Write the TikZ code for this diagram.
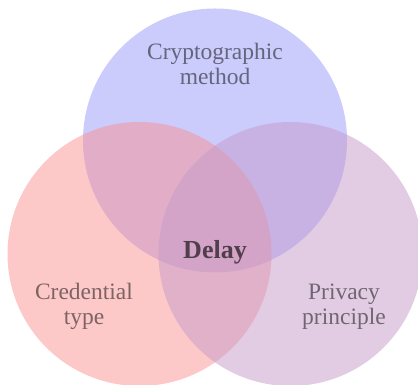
\documentclass[tikz,border=0pt]{standalone}
\usepackage{fontspec}
\setmainfont{Liberation Serif}
\definecolor{cblue}{RGB}{151,151,250}
\definecolor{cred}{RGB}{250,146,146}
\definecolor{cpurple}{RGB}{198,154,202}
\begin{document}
\begin{tikzpicture}[x=1pt,y=1pt,
  setcircle/.style={fill opacity=0.5, draw=none},
  setlabel/.style={inner sep=0pt, anchor=base, align=center, text=black, text opacity=0.5,
    font=\fontsize{23.5}{25.5}\selectfont},
  centerlabel/.style={inner sep=0pt, anchor=base, text=black, text opacity=0.62,
    font=\fontsize{26}{28}\selectfont\bfseries}]
\useasboundingbox (0,0) rectangle (418,385);
\fill[setcircle, fill=cblue] (215,244.5) circle[radius=132];
\fill[setcircle, fill=cred] (139.5,131) circle[radius=132];
\fill[setcircle, fill=cpurple] (290.5,131) circle[radius=132];
\node[setlabel] (crypto) at (215,300) {Cryptographic\\method};
\node[setlabel] (cred) at (84,60) {Credential\\type};
\node[setlabel] (priv) at (344,60) {Privacy\\principle};
\node[centerlabel] (delay) at (215,126) {Delay};
\end{tikzpicture}
\end{document}
